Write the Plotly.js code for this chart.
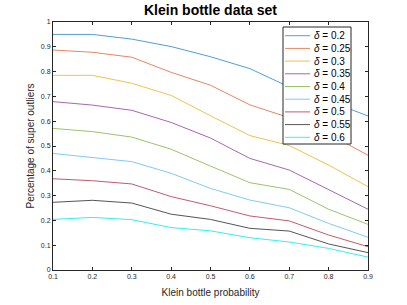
<!DOCTYPE html>
<html>
<head>
<meta charset="utf-8">
<script src="https://cdn.plot.ly/plotly-3.0.1.min.js"></script>
<style>html,body{margin:0;padding:0;background:#fff;}#chart{width:407px;height:305px;}</style>
</head>
<body>
<div id="chart"></div>
<script>
var probability = [0.1, 0.2, 0.3, 0.4, 0.5, 0.6, 0.7, 0.8, 0.9];
var deltas = ['0.2', '0.25', '0.3', '0.35', '0.4', '0.45', '0.5', '0.55', '0.6'];
var d020 = [0.950, 0.950, 0.931, 0.901, 0.860, 0.812, 0.738, 0.682, 0.621];
var d025 = [0.887, 0.878, 0.858, 0.797, 0.745, 0.666, 0.614, 0.548, 0.463];
var d030 = [0.785, 0.785, 0.753, 0.704, 0.622, 0.542, 0.502, 0.423, 0.336];
var d035 = [0.679, 0.665, 0.644, 0.595, 0.532, 0.450, 0.403, 0.325, 0.245];
var d040 = [0.571, 0.558, 0.536, 0.487, 0.419, 0.352, 0.325, 0.245, 0.184];
var d045 = [0.470, 0.453, 0.437, 0.390, 0.329, 0.282, 0.251, 0.188, 0.132];
var d050 = [0.368, 0.360, 0.347, 0.296, 0.259, 0.218, 0.198, 0.141, 0.094];
var d055 = [0.273, 0.281, 0.270, 0.225, 0.204, 0.168, 0.157, 0.105, 0.070];
var d060 = [0.204, 0.212, 0.203, 0.171, 0.158, 0.130, 0.113, 0.087, 0.052];
var seriesValues = [d020, d025, d030, d035, d040, d045, d050, d055, d060];
var colors = ['#4f9fd6', '#e8855f', '#f0c24e', '#a766b3', '#9cc46a', '#7fcbf2', '#c25a6e', '#555555', '#33f0f0'];

var FONT = 'Liberation Sans, Arial, sans-serif';
var labels = deltas.map(function (d) { return '<i>δ</i> = ' + d; });

var traces = seriesValues.map(function (vals, i) {
  return {
    x: probability, y: vals, type: 'scatter', mode: 'lines',
    name: labels[i], showlegend: false,
    line: {color: colors[i], width: 1}
  };
});

// Legend box drawn in paper coordinates (plot area: 53..368 px wide, 22..270 px tall)
var PW = 315, PH = 248, PL = 53, PB = 270;
function px(x) { return (x - PL) / PW; }
function py(y) { return (PB - y) / PH; }
var shapes = [{
  type: 'rect', xref: 'paper', yref: 'paper',
  x0: px(283), x1: px(351), y0: py(144), y1: py(27),
  fillcolor: '#ffffff', line: {color: '#262626', width: 1}, layer: 'above'
}];
var annotations = [];
labels.forEach(function (lab, i) {
  var yc = 35.7 + i * 12.7;
  shapes.push({
    type: 'line', xref: 'paper', yref: 'paper',
    x0: px(285), x1: px(310), y0: py(yc), y1: py(yc),
    line: {color: colors[i], width: 1}, layer: 'above'
  });
  annotations.push({
    xref: 'paper', yref: 'paper', x: px(312), y: py(yc),
    xanchor: 'left', yanchor: 'middle', showarrow: false,
    text: lab, font: {family: FONT, size: 10, color: '#000'}
  });
});

var axisCommon = {
  showline: true, linecolor: '#262626', linewidth: 1, mirror: 'ticks',
  ticks: 'inside', ticklen: 3, tickcolor: '#262626',
  showgrid: false, zeroline: false,
  tickfont: {family: FONT, size: 7, color: '#262626'}
};

var layout = {
  width: 407, height: 305,
  margin: {l: 53, r: 39, t: 22, b: 35},
  paper_bgcolor: '#ffffff', plot_bgcolor: '#ffffff',
  title: {text: '<b>Klein bottle data set</b>', xref: 'paper', x: 0.5, xanchor: 'center',
    yref: 'container', y: 0.967, yanchor: 'middle',
    font: {family: FONT, size: 14, color: '#000'}},
  xaxis: Object.assign({}, axisCommon, {
    range: [0.1, 0.9], tickvals: probability,
    ticktext: ['0.1','0.2','0.3','0.4','0.5','0.6','0.7','0.8','0.9'],
    title: {text: 'Klein bottle probability', standoff: 9,
      font: {family: FONT, size: 10, color: '#262626'}}
  }),
  yaxis: Object.assign({}, axisCommon, {
    range: [0, 1], tickvals: [0,0.1,0.2,0.3,0.4,0.5,0.6,0.7,0.8,0.9,1],
    ticktext: ['0','0.1','0.2','0.3','0.4','0.5','0.6','0.7','0.8','0.9','1'],
    title: {text: 'Percentage of super outliers', standoff: 4,
      font: {family: FONT, size: 10, color: '#262626'}}
  }),
  shapes: shapes,
  annotations: annotations,
  showlegend: false
};

Plotly.newPlot('chart', traces, layout, {displayModeBar: false, staticPlot: true});
</script>
</body>
</html>
